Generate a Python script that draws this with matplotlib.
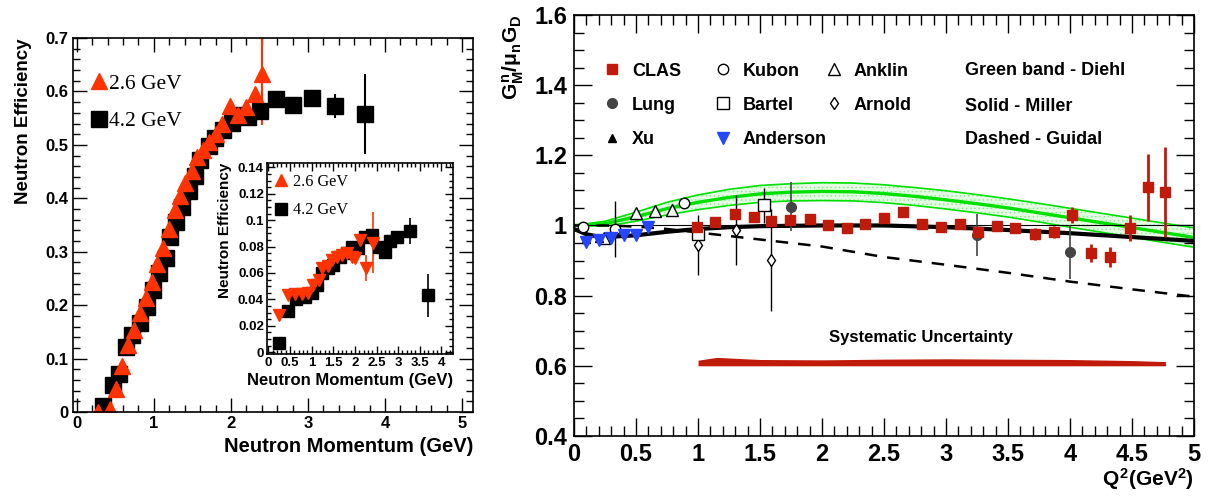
import numpy as np
import matplotlib.pyplot as plt
from matplotlib.lines import Line2D
from matplotlib.ticker import MultipleLocator, FuncFormatter

plt.rcParams['font.family'] = ['Liberation Sans', 'DejaVu Sans']
plt.rcParams['font.weight'] = 'bold'
plt.rcParams['axes.labelweight'] = 'bold'
plt.rcParams['mathtext.fontset'] = 'custom'
plt.rcParams['mathtext.rm'] = 'Liberation Sans:bold'
plt.rcParams['mathtext.it'] = 'Liberation Sans:bold'
plt.rcParams['mathtext.bf'] = 'Liberation Sans:bold'
plt.rcParams['hatch.linewidth'] = 0.5

# ---- left panel: neutron efficiency vs momentum
p26 = [0.28, 0.43, 0.51, 0.59, 0.67, 0.74, 0.82, 0.90, 0.97, 1.04, 1.12, 1.19, 1.27,
       1.34, 1.41, 1.49, 1.56, 1.64, 1.72, 1.80, 1.88, 1.99, 2.09, 2.20, 2.31, 2.40]
eff26 = [0.0, 0.005, 0.044, 0.087, 0.125, 0.153, 0.185, 0.213, 0.244, 0.277, 0.307, 0.343, 0.378,
         0.405, 0.428, 0.452, 0.478, 0.490, 0.505, 0.520, 0.540, 0.572, 0.556, 0.570, 0.596, 0.632]
err26 = [0] * 24 + [0.01, 0.094]

p42 = [0.34, 0.47, 0.55, 0.64, 0.72, 0.82, 0.91, 0.99, 1.07, 1.16, 1.21, 1.29, 1.36, 1.45,
       1.53, 1.60, 1.71, 1.79, 1.90, 2.01, 2.12, 2.22, 2.38, 2.59, 2.81, 3.05, 3.35, 3.74]
eff42 = [0.012, 0.05, 0.072, 0.122, 0.145, 0.166, 0.197, 0.228, 0.260, 0.288, 0.328, 0.356, 0.384, 0.413,
         0.441, 0.472, 0.497, 0.513, 0.528, 0.541, 0.555, 0.553, 0.563, 0.585, 0.575, 0.588, 0.573, 0.558]
err42 = [0] * 25 + [0.012, 0.022, 0.075]

# inset
ip26 = [0.25, 0.46, 0.61, 0.77, 0.92, 1.04, 1.16, 1.24, 1.37, 1.47, 1.58, 1.70, 1.81, 1.93, 2.01, 2.11, 2.26, 2.42]
ieff26 = [0.028, 0.043, 0.044, 0.044, 0.045, 0.051, 0.055, 0.064, 0.065, 0.070, 0.072, 0.0737, 0.075,
          0.0724, 0.071, 0.085, 0.064, 0.083]
ierr26 = [0] * 16 + [0.01, 0.023]

ip42 = [0.25, 0.45, 0.64, 0.85, 1.0, 1.12, 1.24, 1.37, 1.50, 1.66, 1.81, 1.93, 2.08, 2.24, 2.39,
        2.55, 2.69, 2.82, 2.97, 3.28, 3.70]
ieff42 = [0.007, 0.031, 0.040, 0.042, 0.045, 0.051, 0.060, 0.064, 0.066, 0.072, 0.075, 0.080, 0.079,
          0.0876, 0.089, 0.080, 0.076, 0.084, 0.087, 0.092, 0.043]
ierr42 = [0] * 19 + [0.01, 0.016]

# ---- right panel: G_M^n / mu_n G_D vs Q^2
clas_q2 = [0.99, 1.14, 1.30, 1.45, 1.59, 1.74, 1.90, 2.05, 2.20, 2.35, 2.50, 2.65, 2.81,
           2.96, 3.11, 3.26, 3.41, 3.56, 3.72, 3.87, 4.02, 4.17, 4.32, 4.48, 4.63, 4.77]
clas_g = [0.997, 1.009, 1.033, 1.025, 1.014, 1.016, 1.019, 1.0, 0.994, 1.005, 1.022, 1.037, 1.004,
          0.997, 1.005, 0.98, 0.999, 0.992, 0.976, 0.981, 1.03, 0.921, 0.910, 0.992, 1.109, 1.095]
clas_err = [0.008] * 13 + [0.01, 0.01, 0.012, 0.012, 0.012, 0.018, 0.018, 0.024, 0.025, 0.028,
                           0.037, 0.096, 0.128]

lung_q2 = [1.75, 3.25, 4.0]
lung_g = [1.054, 0.973, 0.924]
lung_err = [0.07, 0.06, 0.077]

xu_q2 = [0.1, 0.2]
xu_g = [0.962, 0.965]
xu_err = [0.01, 0.01]

kubon_q2 = [0.07, 0.33, 0.89]
kubon_g = [0.995, 0.99, 1.064]
kubon_err = [0.01, 0.08, 0.01]

bartel_q2 = [1.0, 1.53]
bartel_g = [0.975, 1.058]
bartel_err = [0.03, 0.05]

anderson_q2 = [0.10, 0.20, 0.30, 0.40, 0.50, 0.60]
anderson_g = [0.954, 0.959, 0.964, 0.973, 0.973, 0.997]
anderson_err = [0.015, 0.015, 0.015, 0.012, 0.012, 0.012]

anklin_q2 = [0.24, 0.50, 0.65, 0.79]
anklin_g = [0.965, 1.035, 1.040, 1.045]
anklin_err = [0.01, 0.01, 0.01, 0.01]

arnold_q2 = [1.0, 1.31, 1.59]
arnold_g = [0.945, 0.988, 0.902]
arnold_err = [0.085, 0.10, 0.145]

# theory curves
th_q2 = [0, 0.25, 0.5, 0.75, 1.0, 1.25, 1.5, 1.75, 2.0, 2.25, 2.5, 2.75, 3.0, 3.25, 3.5,
         3.75, 4.0, 4.25, 4.5, 4.75, 5.0]
diehl_mid = [1.0, 1.005, 1.025, 1.048, 1.066, 1.080, 1.090, 1.095, 1.097, 1.096, 1.091, 1.083,
             1.073, 1.062, 1.050, 1.036, 1.022, 1.008, 0.994, 0.980, 0.966]
diehl_hi = [1.0, 1.012, 1.038, 1.066, 1.087, 1.103, 1.114, 1.119, 1.122, 1.121, 1.116, 1.108,
            1.099, 1.088, 1.076, 1.063, 1.049, 1.035, 1.021, 1.007, 0.993]
diehl_lo = [1.0, 0.998, 1.012, 1.030, 1.045, 1.057, 1.066, 1.070, 1.071, 1.070, 1.065, 1.057,
            1.047, 1.036, 1.024, 1.010, 0.995, 0.981, 0.966, 0.952, 0.938]

miller_q2 = [0, 0.1, 0.2, 0.3, 0.5, 0.75, 1.0, 1.25, 1.5, 2.0, 2.5, 3.0, 3.5, 4.0, 4.5, 5.0]
miller_g = [0.99, 0.975, 0.968, 0.968, 0.972, 0.982, 0.99, 0.995, 0.998, 1.0, 1.0, 0.995,
            0.987, 0.978, 0.967, 0.956]

guidal_q2 = [0, 0.25, 0.5, 0.75, 1.0, 1.25, 1.5, 2.0, 2.5, 3.0, 3.5, 4.0, 4.5, 5.0]
guidal_g = [1.0, 1.0, 0.997, 0.99, 0.98, 0.97, 0.96, 0.94, 0.91, 0.888, 0.865, 0.84, 0.818, 0.797]

sys_q2 = [1.0, 1.15, 1.5, 2.0, 2.5, 3.0, 3.5, 4.0, 4.5, 4.77]
sys_hi = [0.616, 0.624, 0.618, 0.617, 0.619, 0.620, 0.619, 0.618, 0.615, 0.612]
sys_lo = [0.600] * 10

RED = '#ff3300'
CLAS_RED = '#c01a0a'
BLUE = '#2545ff'
GREEN = '#00e000'
gfmt = FuncFormatter(lambda v, p: '%g' % round(v, 4))


def root_ticks(ax, maj, mnr, labelsize, pad):
    ax.tick_params(which='both', direction='in', top=True, right=True, width=1.0)
    ax.tick_params(which='major', length=maj, labelsize=labelsize, pad=pad)
    ax.tick_params(which='minor', length=mnr)
    for s in ax.spines.values():
        s.set_linewidth(1.2)


fig = plt.figure(figsize=(12.08, 4.99), dpi=100)

# main left axes
ax1 = fig.add_axes([0.0604, 0.1743, 0.3311, 0.7495])
ax1.errorbar(p42, eff42, yerr=err42, fmt='s', color='black', ms=11, elinewidth=1.5, capsize=0)
ax1.errorbar(p26, eff26, yerr=err26, fmt='^', color=RED, ms=11, elinewidth=1.5, capsize=0)
ax1.set_xlim(-0.05, 5.14)
ax1.set_ylim(0, 0.7)
ax1.xaxis.set_major_locator(MultipleLocator(1))
ax1.xaxis.set_minor_locator(MultipleLocator(0.2))
ax1.yaxis.set_major_locator(MultipleLocator(0.1))
ax1.yaxis.set_minor_locator(MultipleLocator(0.02))
ax1.xaxis.set_major_formatter(gfmt)
ax1.yaxis.set_major_formatter(gfmt)
root_ticks(ax1, 10, 5, 12, 3)
ax1.set_ylabel('Neutron Efficiency', fontsize=13.5, loc='top', labelpad=10)
ax1.set_xlabel('Neutron Momentum (GeV)', fontsize=14.5, loc='right', labelpad=4)
h26 = Line2D([], [], marker='^', color=RED, ls='none', ms=11)
h42 = Line2D([], [], marker='s', color='black', ls='none', ms=11)
ax1.legend([h26, h42], ['2.6 GeV', '4.2 GeV'], loc='upper left', bbox_to_anchor=(0.041, 0.904),
           frameon=False, borderpad=0, borderaxespad=0, handlelength=0.9, handletextpad=0.0,
           labelspacing=0.8, prop={'family': 'Liberation Serif', 'weight': 'normal', 'size': 15.5})

# inset
ax2 = fig.add_axes([0.2208, 0.2906, 0.1542, 0.3834])
ax2.errorbar(ip42, ieff42, yerr=ierr42, fmt='s', color='black', ms=8, elinewidth=1.2, capsize=0)
ax2.errorbar(ip26, ieff26, yerr=ierr26, fmt='v', color=RED, ms=8, elinewidth=1.2, capsize=0)
ax2.set_xlim(-0.04, 4.27)
ax2.set_ylim(-0.0013, 0.1435)
ax2.xaxis.set_major_locator(MultipleLocator(0.5))
ax2.xaxis.set_minor_locator(MultipleLocator(0.1))
ax2.yaxis.set_major_locator(MultipleLocator(0.02))
ax2.yaxis.set_minor_locator(MultipleLocator(0.005))
ax2.xaxis.set_major_formatter(gfmt)
ax2.yaxis.set_major_formatter(gfmt)
root_ticks(ax2, 6, 3, 9.5, 2)
ax2.set_ylabel('Neutron Efficiency', fontsize=11, loc='top', labelpad=4)
ax2.set_xlabel('Neutron Momentum (GeV)', fontsize=12, loc='right', labelpad=3)
hi26 = Line2D([], [], marker='^', color=RED, ls='none', ms=8)
hi42 = Line2D([], [], marker='s', color='black', ls='none', ms=8)
ax2.legend([hi26, hi42], ['2.6 GeV', '4.2 GeV'], loc='upper left', bbox_to_anchor=(0.036, 0.94),
           frameon=False, borderpad=0, borderaxespad=0, handlelength=0.9, handletextpad=0.3,
           labelspacing=0.75, prop={'family': 'Liberation Serif', 'weight': 'normal', 'size': 11.7})

# right panel
ax3 = fig.add_axes([0.4752, 0.1263, 0.5132, 0.8437])
ax3.fill_between(th_q2, diehl_lo, diehl_hi, facecolor='#e4fbe4', edgecolor='#88ee88',
                 hatch='....', linewidth=0, zorder=1)
ax3.plot(th_q2, diehl_hi, color=GREEN, lw=1.2, zorder=2)
ax3.plot(th_q2, diehl_lo, color=GREEN, lw=1.2, zorder=2)
ax3.plot(th_q2, diehl_mid, color=GREEN, lw=2.4, zorder=2)
ax3.axhline(1.0, color='black', lw=0.8, zorder=2)
ax3.plot(miller_q2, miller_g, color='black', lw=3.0, zorder=3)
ax3.plot(guidal_q2, guidal_g, color='black', lw=1.8, dashes=(5, 4), zorder=3)
ax3.fill_between(sys_q2, sys_lo, sys_hi, color='#c01a0a', linewidth=0, zorder=3)

ax3.errorbar(arnold_q2, arnold_g, yerr=arnold_err, fmt='d', mfc='white', mec='black', color='black',
             ms=6, mew=1.0, elinewidth=1.0, capsize=0, zorder=4)
ax3.errorbar(bartel_q2, bartel_g, yerr=bartel_err, fmt='s', mfc='white', mec='black', color='black',
             ms=8, mew=1.0, elinewidth=1.0, capsize=0, zorder=4)
ax3.errorbar(kubon_q2, kubon_g, yerr=kubon_err, fmt='o', mfc='white', mec='black', color='black',
             ms=7.5, mew=1.0, elinewidth=1.0, capsize=0, zorder=4)
ax3.errorbar(anklin_q2, anklin_g, yerr=anklin_err, fmt='^', mfc='white', mec='black', color='black',
             ms=8, mew=1.0, elinewidth=1.0, capsize=0, zorder=4)
ax3.errorbar(xu_q2, xu_g, yerr=xu_err, fmt='^', color='black', ms=6, elinewidth=1.0, capsize=0, zorder=4)
ax3.errorbar(lung_q2, lung_g, yerr=lung_err, fmt='o', color='#444444', ms=7, elinewidth=1.2,
             capsize=0, zorder=5)
ax3.errorbar(anderson_q2, anderson_g, yerr=anderson_err, fmt='v', color=BLUE, ms=9, elinewidth=1.0,
             capsize=0, zorder=5)
ax3.errorbar(clas_q2, clas_g, yerr=clas_err, fmt='s', color=CLAS_RED, ms=7, elinewidth=2.0,
             capsize=0, zorder=6)

ax3.set_xlim(0, 5)
ax3.set_ylim(0.4, 1.6)
ax3.xaxis.set_major_locator(MultipleLocator(0.5))
ax3.xaxis.set_minor_locator(MultipleLocator(0.1))
ax3.yaxis.set_major_locator(MultipleLocator(0.2))
ax3.yaxis.set_minor_locator(MultipleLocator(0.05))
ax3.xaxis.set_major_formatter(gfmt)
ax3.yaxis.set_major_formatter(gfmt)
root_ticks(ax3, 13, 7, 17, 5)
ax3.set_ylabel(r'$G^n_M/\mu_n G_D$', fontsize=15, loc='top', labelpad=6)
ax3.set_xlabel(r'$Q^2$(GeV$^2$)', fontsize=15, loc='right', labelpad=0)
ax3.text(2.8, 0.68, 'Systematic Uncertainty', fontsize=12, ha='center', va='center')

leg_font = {'family': 'Liberation Sans', 'weight': 'bold', 'size': 13}
kw = dict(loc='upper left', frameon=False, borderpad=0, borderaxespad=0, handlelength=1.0,
          handletextpad=0.6, labelspacing=0.95, prop=leg_font)
col1 = [Line2D([], [], marker='s', color=CLAS_RED, ls='none', ms=7),
        Line2D([], [], marker='o', color='#444444', ls='none', ms=7),
        Line2D([], [], marker='^', color='black', ls='none', ms=6)]
col2 = [Line2D([], [], marker='o', mfc='white', mec='black', ls='none', ms=7.5),
        Line2D([], [], marker='s', mfc='white', mec='black', ls='none', ms=8),
        Line2D([], [], marker='v', color=BLUE, ls='none', ms=9)]
col3 = [Line2D([], [], marker='^', mfc='white', mec='black', ls='none', ms=8),
        Line2D([], [], marker='d', mfc='white', mec='black', ls='none', ms=6)]
l1 = ax3.legend(col1, ['CLAS', 'Lung', 'Xu'], bbox_to_anchor=(0.0468, 0.887), **kw)
ax3.add_artist(l1)
l2 = ax3.legend(col2, ['Kubon', 'Bartel', 'Anderson'], bbox_to_anchor=(0.2258, 0.887), **kw)
ax3.add_artist(l2)
ax3.legend(col3, ['Anklin', 'Arnold'], bbox_to_anchor=(0.4048, 0.887), **kw)
for txt, yf in zip(['Green band - Diehl', 'Solid - Miller', 'Dashed - Guidal'], [0.867, 0.783, 0.704]):
    ax3.text(0.631, yf, txt, transform=ax3.transAxes, fontsize=13, va='center', ha='left')

fig.savefig('out.png', dpi=100)
